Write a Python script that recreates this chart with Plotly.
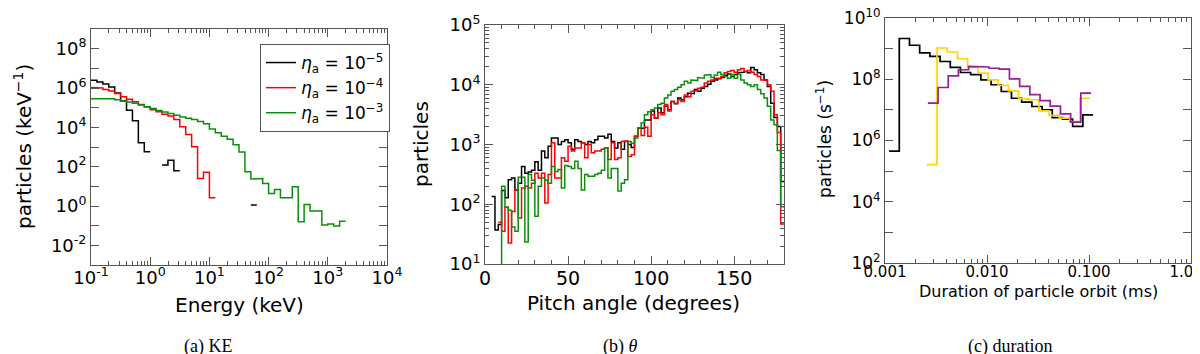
import numpy as np
import plotly.graph_objects as go

# ---------------- data (values are log10 of the counts) ----------------
# (a) kinetic energy spectra, 0.1-decade bins starting at 0.1 keV
ke_bin_start_log = -1.0
ke_bin_width_log = 0.1
ke_eta5 = [6.39, 6.30, 6.20, 6.05, 5.75, 5.35, 4.87, 4.33, 3.21, 2.76,
           None, None, 2.08, 2.33, 1.79,
           None, None, None, None, None, None, None, None, None, None, None, None,
           0.05]
ke_eta4 = [6.02, 6.00, 5.93, 5.85, 5.72, 5.55, 5.43, 5.30, 5.16, 5.04,
           4.90, 4.79, 4.67, 4.58, 4.40, 4.03, 3.63, 3.01, 1.40, 1.71, 0.42]
ke_eta3 = [5.45, 5.47, 5.48, 5.45, 5.40, 5.34, 5.29, 5.22, 5.13, 5.05,
           4.96, 4.86, 4.78, 4.70, 4.62, 4.52, 4.46, 4.40, 4.30, 4.18,
           3.92, 3.72, 3.55, 3.40, 3.12, 2.75, 1.74, 1.37, 1.40, 1.15,
           0.64, 0.84, 0.42, 0.42, 0.98, -0.80, 0.08, -0.26, -0.26, -0.97,
           -0.92, -1.02, -0.77]

# (b) pitch angle, 2-degree bins from 0 to 180
pa_bin_width = 2
pa_eta5 = [None, None, 2.13, 1.57, 1.66, 2.23, 2.11, 2.41, 2.44, 2.24,
           2.35, 2.63, 2.52, 2.54, 2.57, 2.71, 2.57, 2.89, 2.78, 2.97,
           3.11, 3.11, 3.00, 3.05, 3.08, 3.03, 2.92, 3.08, 3.05, 3.03,
           3.00, 3.05, 3.03, 3.08, 3.14, 3.14, 3.11, 3.17, 3.05, 2.94,
           3.03, 2.92, 3.05, 3.00, 2.95, 3.14, 3.27, 3.27, 3.41, 3.41,
           3.56, 3.44, 3.61, 3.53, 3.64, 3.58, 3.72, 3.68, 3.78, 3.75,
           3.80, 3.86, 3.85, 3.92, 3.89, 3.94, 3.97, 4.01, 4.06, 4.08,
           4.10, 4.12, 4.16, 4.18, 4.14, 4.17, 4.20, 4.21, 4.22, 4.20,
           4.29, 4.25, 4.20, 4.17, 4.08, 3.97, 3.69, 3.45, 3.30, 2.38]
pa_eta4 = [None, None, None, None, 1.70, 1.55, 1.95, 1.35, 1.88, 2.24,
           1.77, 2.27, 2.30, 2.27, 2.35, 2.52, 2.44, 2.52, 2.02, 2.50,
           3.03, 2.44, 2.44, 2.78, 2.72, 2.97, 2.89, 2.94, 2.94, 3.03,
           2.78, 3.00, 2.86, 2.89, 2.89, 2.92, 2.94, 2.75, 3.03, 2.75,
           2.78, 3.05, 3.06, 2.80, 2.83, 3.14, 3.28, 3.15, 3.29, 3.14,
           3.50, 3.44, 3.53, 3.50, 3.67, 3.56, 3.72, 3.69, 3.75, 3.72,
           3.83, 3.80, 3.89, 3.90, 3.94, 3.96, 4.03, 4.06, 4.08, 4.11,
           4.11, 4.14, 4.20, 4.22, 4.24, 4.21, 4.25, 4.27, 4.22, 4.24,
           4.21, 4.17, 4.14, 4.08, 4.08, 4.00, 3.89, 3.50, 3.20, 1.67]
pa_eta3 = [None, None, None, None, 0.80, 2.30, 1.95, 1.90, 1.62, 1.55,
           2.45, 2.45, 1.37, 2.50, 2.40, 1.80, 2.30, 2.44, 2.40, 2.35,
           2.63, 2.55, 2.58, 2.27, 2.65, 2.63, 2.60, 2.72, 2.60, 2.24,
           2.50, 2.47, 2.47, 2.50, 2.52, 2.57, 2.94, 2.44, 2.60, 2.60,
           2.22, 2.35, 2.41, 3.05, 3.02, 3.11, 3.28, 3.36, 3.50, 3.55,
           3.58, 3.61, 3.67, 3.69, 3.78, 3.83, 3.89, 3.92, 3.96, 4.00,
           4.06, 4.03, 4.08, 4.07, 4.12, 4.11, 4.16, 4.17, 4.12, 4.16,
           4.21, 4.17, 4.14, 4.11, 4.17, 4.11, 4.17, 4.08, 4.03, 4.00,
           3.97, 4.00, 3.92, 3.85, 3.78, 3.64, 3.41, 3.33, 2.90, 1.96]

# (c) orbit duration, 0.1-decade bins (log10 ms of first edge given per series)
dur_bin_width_log = 0.1
dur_black_start = -2.96
dur_black = [5.65, 9.33, 9.11, 8.86, 8.75, 8.58, 8.39, 8.22, 8.15, 7.98,
             7.82, 7.60, 7.38, 7.25, 7.11, 7.00, 6.75, 6.70, 6.46, 6.84]
dur_gold_start = -2.59
dur_gold = [5.21, 9.02, 8.89, 8.67, 8.39, 8.20, 7.98, 7.80, 7.62, 7.36,
            7.33, 6.97, 6.82, 6.73, 6.62, 7.38]
dur_purple_start = -2.58
dur_purple = [7.22, 7.73, 8.11, 8.31, 8.42, 8.40, 8.36, 8.33, 8.01, 7.77,
              7.50, 7.30, 7.12, 6.87, 6.60, 7.55]

legend_names = ["<i>η</i><sub>a</sub> = 10<sup>−5</sup>",
                "<i>η</i><sub>a</sub> = 10<sup>−4</sup>",
                "<i>η</i><sub>a</sub> = 10<sup>−3</sup>"]

# ---------------- helpers ----------------
FONT = "DejaVu Sans"
AXC = "#555555"


def steps(edges, logvals):
    xs, ys = [], []
    for lo, hi, v in zip(edges[:-1], edges[1:], logvals):
        xs += [lo, hi]
        ys += [None, None] if v is None else [10 ** v, 10 ** v]
    return xs, ys


def log_edges(start, width, n):
    return [10 ** (start + width * k) for k in range(n + 1)]


def decade_minor(lo, hi):
    return [m * 10.0 ** d for d in range(lo, hi) for m in range(2, 10)]


def frame(size, **kw):
    d = dict(showline=True, mirror="allticks", linecolor=AXC, linewidth=1,
             ticks="inside", ticklen=8, tickwidth=1, tickcolor=AXC,
             showgrid=False, zeroline=False, automargin=False,
             ticklabeloverflow="allow",
             tickfont=dict(family=FONT, size=size, color="#000"))
    d.update(kw)
    return d


fig = go.Figure()

colors_a = ["#000000", "#ff0000", "#0a8f0a"]

# (a)
for vals, col, name in zip([ke_eta5, ke_eta4, ke_eta3], colors_a, legend_names):
    x, y = steps(log_edges(ke_bin_start_log, ke_bin_width_log, len(vals)), vals)
    fig.add_trace(go.Scatter(x=x, y=y, mode="lines", name=name, connectgaps=False,
                             line=dict(color=col, width=1.5), xaxis="x", yaxis="y"))

# (b)
for vals, col in zip([pa_eta5, pa_eta4, pa_eta3], colors_a):
    edges = [pa_bin_width * k for k in range(len(vals) + 1)]
    x, y = steps(edges, vals)
    fig.add_trace(go.Scatter(x=x, y=y, mode="lines", showlegend=False, connectgaps=False,
                             line=dict(color=col, width=1.5), xaxis="x2", yaxis="y2"))

# (c)
for start, vals, col in [(dur_black_start, dur_black, "#000000"),
                         (dur_gold_start, dur_gold, "#ffd400"),
                         (dur_purple_start, dur_purple, "#9a1a9a")]:
    x, y = steps(log_edges(start, dur_bin_width_log, len(vals)), vals)
    fig.add_trace(go.Scatter(x=x, y=y, mode="lines", showlegend=False,
                             line=dict(color=col, width=1.7), xaxis="x3", yaxis="y3"))

W, H = 1200, 354


def dom_x(a, b):
    return [a / W, b / W]


def dom_y(top, bot):
    return [1 - bot / H, 1 - top / H]


def sup(n):
    return "10<sup>%d</sup>" % n


def minor_ticks(vals, length=4):
    return dict(ticks="inside", ticklen=length, tickcolor=AXC, tickvals=vals)


fig.update_layout(
    width=W, height=H, margin=dict(l=0, r=0, t=0, b=0),
    paper_bgcolor="white", plot_bgcolor="white",
    font=dict(family=FONT, color="#000"),
    xaxis=frame(18, type="log", domain=dom_x(83, 379), anchor="y", range=[-1, 4],
                tickvals=[10.0 ** e for e in range(-1, 5)],
                ticktext=[sup(e) for e in range(-1, 5)],
                ticklabelstandoff=-4,
                minor=minor_ticks(decade_minor(-1, 4))),
    yaxis=frame(18, type="log", domain=dom_y(21, 257), anchor="x", range=[-3, 9],
                tickvals=[10.0 ** e for e in range(-2, 10, 2)],
                ticktext=[sup(e) for e in range(-2, 10, 2)],
                minor=minor_ticks([10.0 ** e for e in range(-3, 10, 2)], 8)),
    xaxis2=frame(19, domain=dom_x(477, 776), anchor="y2", range=[0, 180],
                 tickvals=[0, 50, 100, 150],
                 ticklabelstandoff=-3,
                 minor=dict(ticks="inside", ticklen=4, tickcolor=AXC, dtick=10)),
    yaxis2=frame(18, type="log", domain=dom_y(17, 256), anchor="x2", range=[1, 5],
                 tickvals=[10.0 ** e for e in range(1, 6)],
                 ticktext=[sup(e) for e in range(1, 6)],
                 minor=minor_ticks(decade_minor(1, 5))),
    xaxis3=frame(15, type="log", domain=dom_x(877, 1183), anchor="y3", range=[-3, 0],
                 tickvals=[0.001, 0.01, 0.1, 1.0],
                 ticktext=["0.001", "0.010", "0.100", "1.000"],
                 ticklabelstandoff=-5,
                 minor=minor_ticks(decade_minor(-3, 0))),
    yaxis3=frame(17, type="log", domain=dom_y(10, 255), anchor="x3", range=[2, 10],
                 tickvals=[10.0 ** e for e in range(2, 11, 2)],
                 ticktext=[sup(e) for e in range(2, 11, 2)],
                 minor=minor_ticks([10.0 ** e for e in range(3, 10, 2)], 8)),
    legend=dict(x=252 / W, y=1 - 36 / H, xanchor="left", yanchor="top",
                bgcolor="white", bordercolor=AXC, borderwidth=1,
                font=dict(family=FONT, size=17, color="#000")),
)


def label(text, x, y, size, angle=0, family=FONT):
    fig.add_annotation(text=text, x=x / W, y=1 - y / H, xref="paper", yref="paper",
                       showarrow=False, textangle=angle, xanchor="center", yanchor="middle",
                       font=dict(family=family, size=size, color="#000"))


label("Energy (keV)", 231, 297, 20)
label("particles (keV<sup>−1</sup>)", 15, 139, 20, angle=-90)
label("Pitch angle (degrees)", 626, 295, 20)
label("particles", 413, 136, 20, angle=-90)
label("Duration of particle orbit (ms)", 1030, 283, 16)
label("particles (s<sup>−1</sup>)", 816, 131, 17, angle=-90)

label("(a) KE", 200, 338, 18, family="Liberation Serif")
label("(b) <i>θ</i>", 612, 338, 18, family="Liberation Serif")
label("(c) duration", 1002, 338, 18, family="Liberation Serif")

fig.write_html("out.html")
